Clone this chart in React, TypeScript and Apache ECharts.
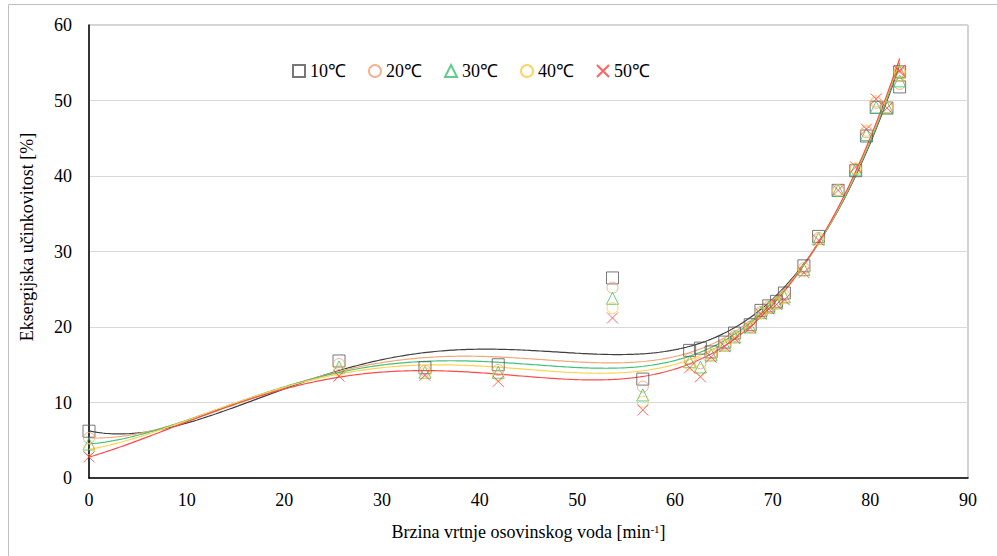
import React, { useEffect, useRef } from "react";
import * as echarts from "echarts";

// Shaft rotation speed [min^-1]
const SPEED = [0, 25.6, 34.4, 41.9, 53.6, 56.7, 61.5, 62.6, 63.7, 65.1, 66.1, 67.7, 68.8, 69.6, 70.4, 71.2, 73.2, 74.7, 76.7, 78.5, 79.6, 80.6, 81.7, 83.0, 83.0];

// Exergy efficiency [%] per water temperature
const EFF_10 = [6.2, 15.5, 14.6, 15.0, 26.5, 13.1, 16.9, 17.2, 16.7, 18.0, 19.2, 20.3, 22.2, 22.8, 23.4, 24.5, 28.1, 32.0, 38.1, 40.7, 45.3, 49.1, 49.0, 51.8, 53.8];
const EFF_20 = [5.3, 15.1, 14.2, 14.3, 25.2, 12.1, 15.8, 15.2, 16.5, 17.7, 18.8, 20.0, 22.0, 22.7, 23.3, 24.2, 27.8, 31.8, 38.1, 40.9, 45.8, 49.7, 49.1, 52.2, 53.8];
const EFF_30 = [4.5, 14.7, 14.0, 14.0, 23.8, 11.0, 15.4, 14.7, 16.3, 17.6, 18.7, 20.0, 21.9, 22.6, 23.2, 24.0, 27.6, 31.7, 38.1, 40.9, 45.5, 49.1, 49.1, 52.6, 53.8];
const EFF_40 = [3.8, 14.2, 13.9, 13.6, 22.5, 10.1, 15.0, 14.3, 16.2, 17.5, 18.6, 19.9, 21.8, 22.5, 23.1, 23.8, 27.4, 31.6, 38.1, 41.0, 46.0, 49.9, 49.1, 53.3, 53.8];
const EFF_50 = [2.8, 13.5, 13.6, 12.8, 21.2, 9.0, 14.6, 13.4, 16.0, 17.4, 18.5, 19.9, 21.7, 22.4, 23.0, 23.6, 27.2, 31.5, 38.1, 41.2, 46.2, 50.2, 49.0, 53.8, 54.0];

const SERIES_NAMES = ["10℃", "20℃", "30℃", "40℃", "50℃"];
const X_TICKS = [0, 10, 20, 30, 40, 50, 60, 70, 80, 90];
const Y_TICKS = [0, 10, 20, 30, 40, 50, 60];

const TREND_DEGREE = 4;

const FONT = "Times New Roman";

function polyfit(xs: number[], ys: number[], deg: number) {
  const n = deg + 1;
  const s = 90;
  const A: number[][] = [];
  for (let i = 0; i < n; i++) {
    A.push(new Array(n + 1).fill(0));
  }
  for (let k = 0; k < xs.length; k++) {
    const t = xs[k] / s;
    for (let i = 0; i < n; i++) {
      for (let j = 0; j < n; j++) A[i][j] += Math.pow(t, i + j);
      A[i][n] += ys[k] * Math.pow(t, i);
    }
  }
  for (let c = 0; c < n; c++) {
    let p = c;
    for (let r = c + 1; r < n; r++) if (Math.abs(A[r][c]) > Math.abs(A[p][c])) p = r;
    const tmp = A[c]; A[c] = A[p]; A[p] = tmp;
    for (let r = 0; r < n; r++) {
      if (r === c) continue;
      const f = A[r][c] / A[c][c];
      for (let k = c; k <= n; k++) A[r][k] -= f * A[c][k];
    }
  }
  const coef = A.map((row, i) => row[n] / row[i]);
  return (x: number) => {
    const t = x / s;
    let v = 0;
    for (let i = n - 1; i >= 0; i--) v = v * t + coef[i];
    return v;
  };
}

export default function App() {
  const ref = useRef<HTMLDivElement>(null);
  useEffect(() => {
    if (!ref.current) return;
    const chart = echarts.init(ref.current, undefined, { renderer: "svg" });
    const data = [EFF_10, EFF_20, EFF_30, EFF_40, EFF_50];
    const markerColors = ["#555555", "#F0A070", "#3CBF6E", "#FFC83D", "#FF3B3B"];
    const lineColors = ["#404040", "#F4A77A", "#45C27A", "#FFD24D", "#FF4A4A"];
    const symbols = ["rect", "circle", "triangle", "circle", "path://M0,0L10,10M10,0L0,10"];
    const sizes = [12, 11, [12, 12], 11, 11];
    const xmin = Math.min(...SPEED);
    const xmax = Math.max(...SPEED);

    const series: any[] = [];
    data.forEach((ys, i) => {
      const f = polyfit(SPEED, ys, TREND_DEGREE);
      const pts: number[][] = [];
      const steps = 300;
      for (let k = 0; k <= steps; k++) {
        const x = xmin + ((xmax - xmin) * k) / steps;
        pts.push([x, f(x)]);
      }
      series.push({
        name: SERIES_NAMES[i] + " trend",
        type: "line",
        data: pts,
        showSymbol: false,
        symbol: "none",
        silent: true,
        z: 1,
        lineStyle: { color: lineColors[i], width: 1.2 },
      });
    });
    data.forEach((ys, i) => {
      series.push({
        name: SERIES_NAMES[i],
        type: "scatter",
        data: SPEED.map((x, k) => [x, ys[k]]),
        symbol: symbols[i],
        symbolSize: sizes[i],
        z: 3,
        itemStyle: { color: "rgba(0,0,0,0)", borderColor: markerColors[i], borderWidth: 1 },
      });
    });

    chart.setOption({
      animation: false,
      backgroundColor: "#ffffff",
      textStyle: { fontFamily: FONT },
      grid: { left: 89, right: 29, top: 25, bottom: 78, show: true, borderColor: "#a6a6a6", borderWidth: 1 },
      legend: {
        data: SERIES_NAMES,
        left: 287,
        top: 57,
        itemWidth: 12,
        itemHeight: 12,
        itemGap: 22,
        textStyle: { fontSize: 18, fontFamily: FONT, color: "#000" },
      },
      xAxis: {
        type: "value",
        min: X_TICKS[0],
        max: X_TICKS[X_TICKS.length - 1],
        interval: 10,
        name: "Brzina vrtnje osovinskog voda [min{sup|-1}]",
        nameLocation: "middle",
        nameGap: 45,
        nameTextStyle: {
          fontSize: 18,
          fontFamily: FONT,
          color: "#000",
          rich: {
            sup: { fontSize: 11, fontFamily: FONT, color: "#000", verticalAlign: "top", padding: [0, 0, 6, 0] },
          },
        },
        axisLine: { lineStyle: { color: "#000", width: 1.5 } },
        axisTick: { show: false },
        splitLine: { show: false },
        axisLabel: { fontSize: 18, fontFamily: FONT, color: "#000", margin: 13 },
      },
      yAxis: {
        type: "value",
        min: Y_TICKS[0],
        max: Y_TICKS[Y_TICKS.length - 1],
        interval: 10,
        axisLine: { show: true, lineStyle: { color: "#000", width: 1.5 } },
        axisTick: { show: false },
        splitLine: { show: true, lineStyle: { color: "#d9d9d9", width: 1 } },
        axisLabel: { fontSize: 18, fontFamily: FONT, color: "#000", margin: 17 },
      },
      graphic: [
        {
          type: "rect",
          shape: { x: 8.5, y: 4.5, width: 1000, height: 600 },
          style: { fill: "none", stroke: "#bfbfbf", lineWidth: 1 },
          silent: true,
        },
        {
          type: "text",
          x: 27,
          y: 237,
          rotation: Math.PI / 2,
          style: {
            text: "Eksergijska učinkovitost [%]",
            fontSize: 18,
            fontFamily: FONT,
            fill: "#000",
            align: "center",
            verticalAlign: "middle",
          },
        },
      ],
      series,
    });
    return () => chart.dispose();
  }, []);
  return <div ref={ref} style={{ position: "absolute", left: 0, top: 0, width: 997, height: 556 }} />;
}
